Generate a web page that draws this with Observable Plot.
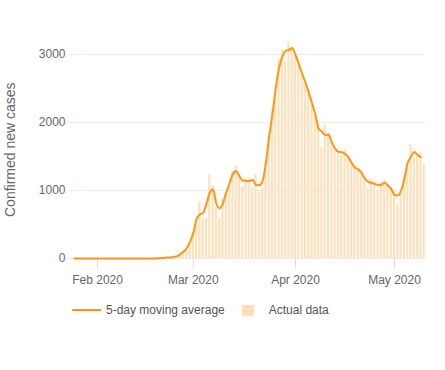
<!DOCTYPE html>
<html>
<head>
<meta charset="utf-8">
<script src="https://cdn.jsdelivr.net/npm/d3@7"></script>
<script src="https://cdn.jsdelivr.net/npm/@observablehq/plot@0.6"></script>
<style>
  html, body { margin: 0; padding: 0; background: #fff; }
  body { width: 445px; height: 370px; overflow: hidden; font-family: "Liberation Sans", Arial, sans-serif; }
  #legend { display: flex; align-items: center; height: 20px; padding-left: 72px; font-size: 12px; color: #555; }
  #legend .sw-line { width: 29px; height: 2px; background: #ff9616; margin-right: 5px; }
  #legend .sw-box { width: 12px; height: 11px; background: #ffdfb8; margin-left: 17px; margin-right: 15px; }
</style>
</head>
<body>
<div id="chart"></div>
<div id="legend">
  <span class="sw-line"></span><span id="lab-line"></span>
  <span class="sw-box"></span><span id="lab-bar"></span>
</div>
<script>
// ---- data ----
const startDate = "2020-01-25";
// daily confirmed new cases, one per day from startDate (Jan 25 .. May 10, 2020)
const actualCases = [
  0,0,0,0,0,0,0,                                   // Jan 25-31
  0,0,0,0,0,0,0,0,0,0,0,0,0,0,0,0,0,0,             // Feb 1-18
  2,3,13,10,15,18,34,44,106,143,205,               // Feb 19-29
  385,523,835,586,591,1234,1076,743,595,881,958,1075,1289,1365,1209,1053,
  1178,1192,1046,1237,966,1028,1411,1762,2206,2389,2926,3076,2901,3186,3110, // Mar
  2987,2875,2715,2560,2483,2274,2089,1997,1634,1972,1837,1657,1617,1574,1512,
  1606,1499,1374,1343,1294,1297,1194,1030,1168,1134,991,1112,1153,1073,993,  // Apr
  1006,802,976,1223,1323,1680,1485,1529,1556,1383                            // May 1-10
];
// moving average line, one per day from startDate (Jan 25 .. May 9, 2020)
const movingAverage = [
  0,0,0,0,0,0,0,                                   // Jan 25-31
  0,0,0,0,0,0,0,0,0,0,0,0,0,0,0,0,0,               // Feb 1-17
  1,2,6,9,13,14,22,32,61,98,151,244,               // Feb 18-29
  371,581,648,671,804,967,1018,805,740,811,971,1107,1243,1288,1209,1147,
  1141,1139,1158,1083,1077,1135,1400,1793,2119,2507,2797,2968,3054,3066,3094, // Mar
  2991,2859,2717,2586,2439,2282,2120,1907,1868,1814,1822,1704,1616,1568,1564,
  1539,1493,1405,1337,1311,1262,1174,1131,1111,1098,1079,1085,1113,1073,1024, // Apr
  934,928,1000,1174,1409,1496,1565,1523,1489                                  // May 1-9
];
const monthTicks = ["2020-02-01", "2020-03-01", "2020-04-01", "2020-05-01"];
const yTicks = [0, 1000, 2000, 3000];
const yLabel = "Confirmed new cases";
const seriesNames = ["5-day moving average", "Actual data"];

// ---- tables ----
const start = new Date(startDate + "T00:00:00Z");
const bars = actualCases.map((v, i) => ({date: d3.utcDay.offset(start, i), value: v}));
const avg = movingAverage.map((v, i) => ({date: d3.utcDay.offset(start, i), value: v}));
const xEnd = d3.utcDay.offset(start, actualCases.length - 1);

const chart = Plot.plot({
  width: 445,
  height: 300,
  marginLeft: 67,
  marginRight: 20,
  marginTop: 40.4,
  marginBottom: 42,
  style: {fontFamily: "'Liberation Sans', Arial, sans-serif", fontSize: "12px", background: "#fff"},
  x: {type: "utc", domain: [start, xEnd], insetLeft: 7, insetRight: 1.3},
  y: {domain: [0, 3200]},
  marks: [
    Plot.gridY(yTicks, {stroke: "#ececec", strokeOpacity: 1}),
    Plot.axisX(monthTicks.map(d => new Date(d + "T00:00:00Z")), {
      tickFormat: d3.utcFormat("%b %Y"), tickSize: 11, tickPadding: 6,
      stroke: "#dddddd", fill: "#666", fontSize: 12, label: null
    }),
    Plot.rectY(bars, {
      x1: d => d3.utcHour.offset(d.date, -8),
      x2: d => d3.utcHour.offset(d.date, 8),
      y: "value", fill: "#fee0bc"
    }),
    Plot.line(avg, {x: "date", y: "value", stroke: "#ff9616", strokeWidth: 2, curve: "monotone-x"}),
    Plot.axisY(yTicks, {tickSize: 0, tickPadding: 2, tickFormat: d => String(d), fill: "#666", fontSize: 12, label: null}),
    Plot.text([yLabel], {frameAnchor: "left", textAnchor: "middle", rotate: -90, dx: -57, fontSize: 14, fill: "#666"})
  ]
});
document.getElementById("chart").appendChild(chart);
document.getElementById("lab-line").textContent = seriesNames[0];
document.getElementById("lab-bar").textContent = seriesNames[1];
</script>
</body>
</html>
